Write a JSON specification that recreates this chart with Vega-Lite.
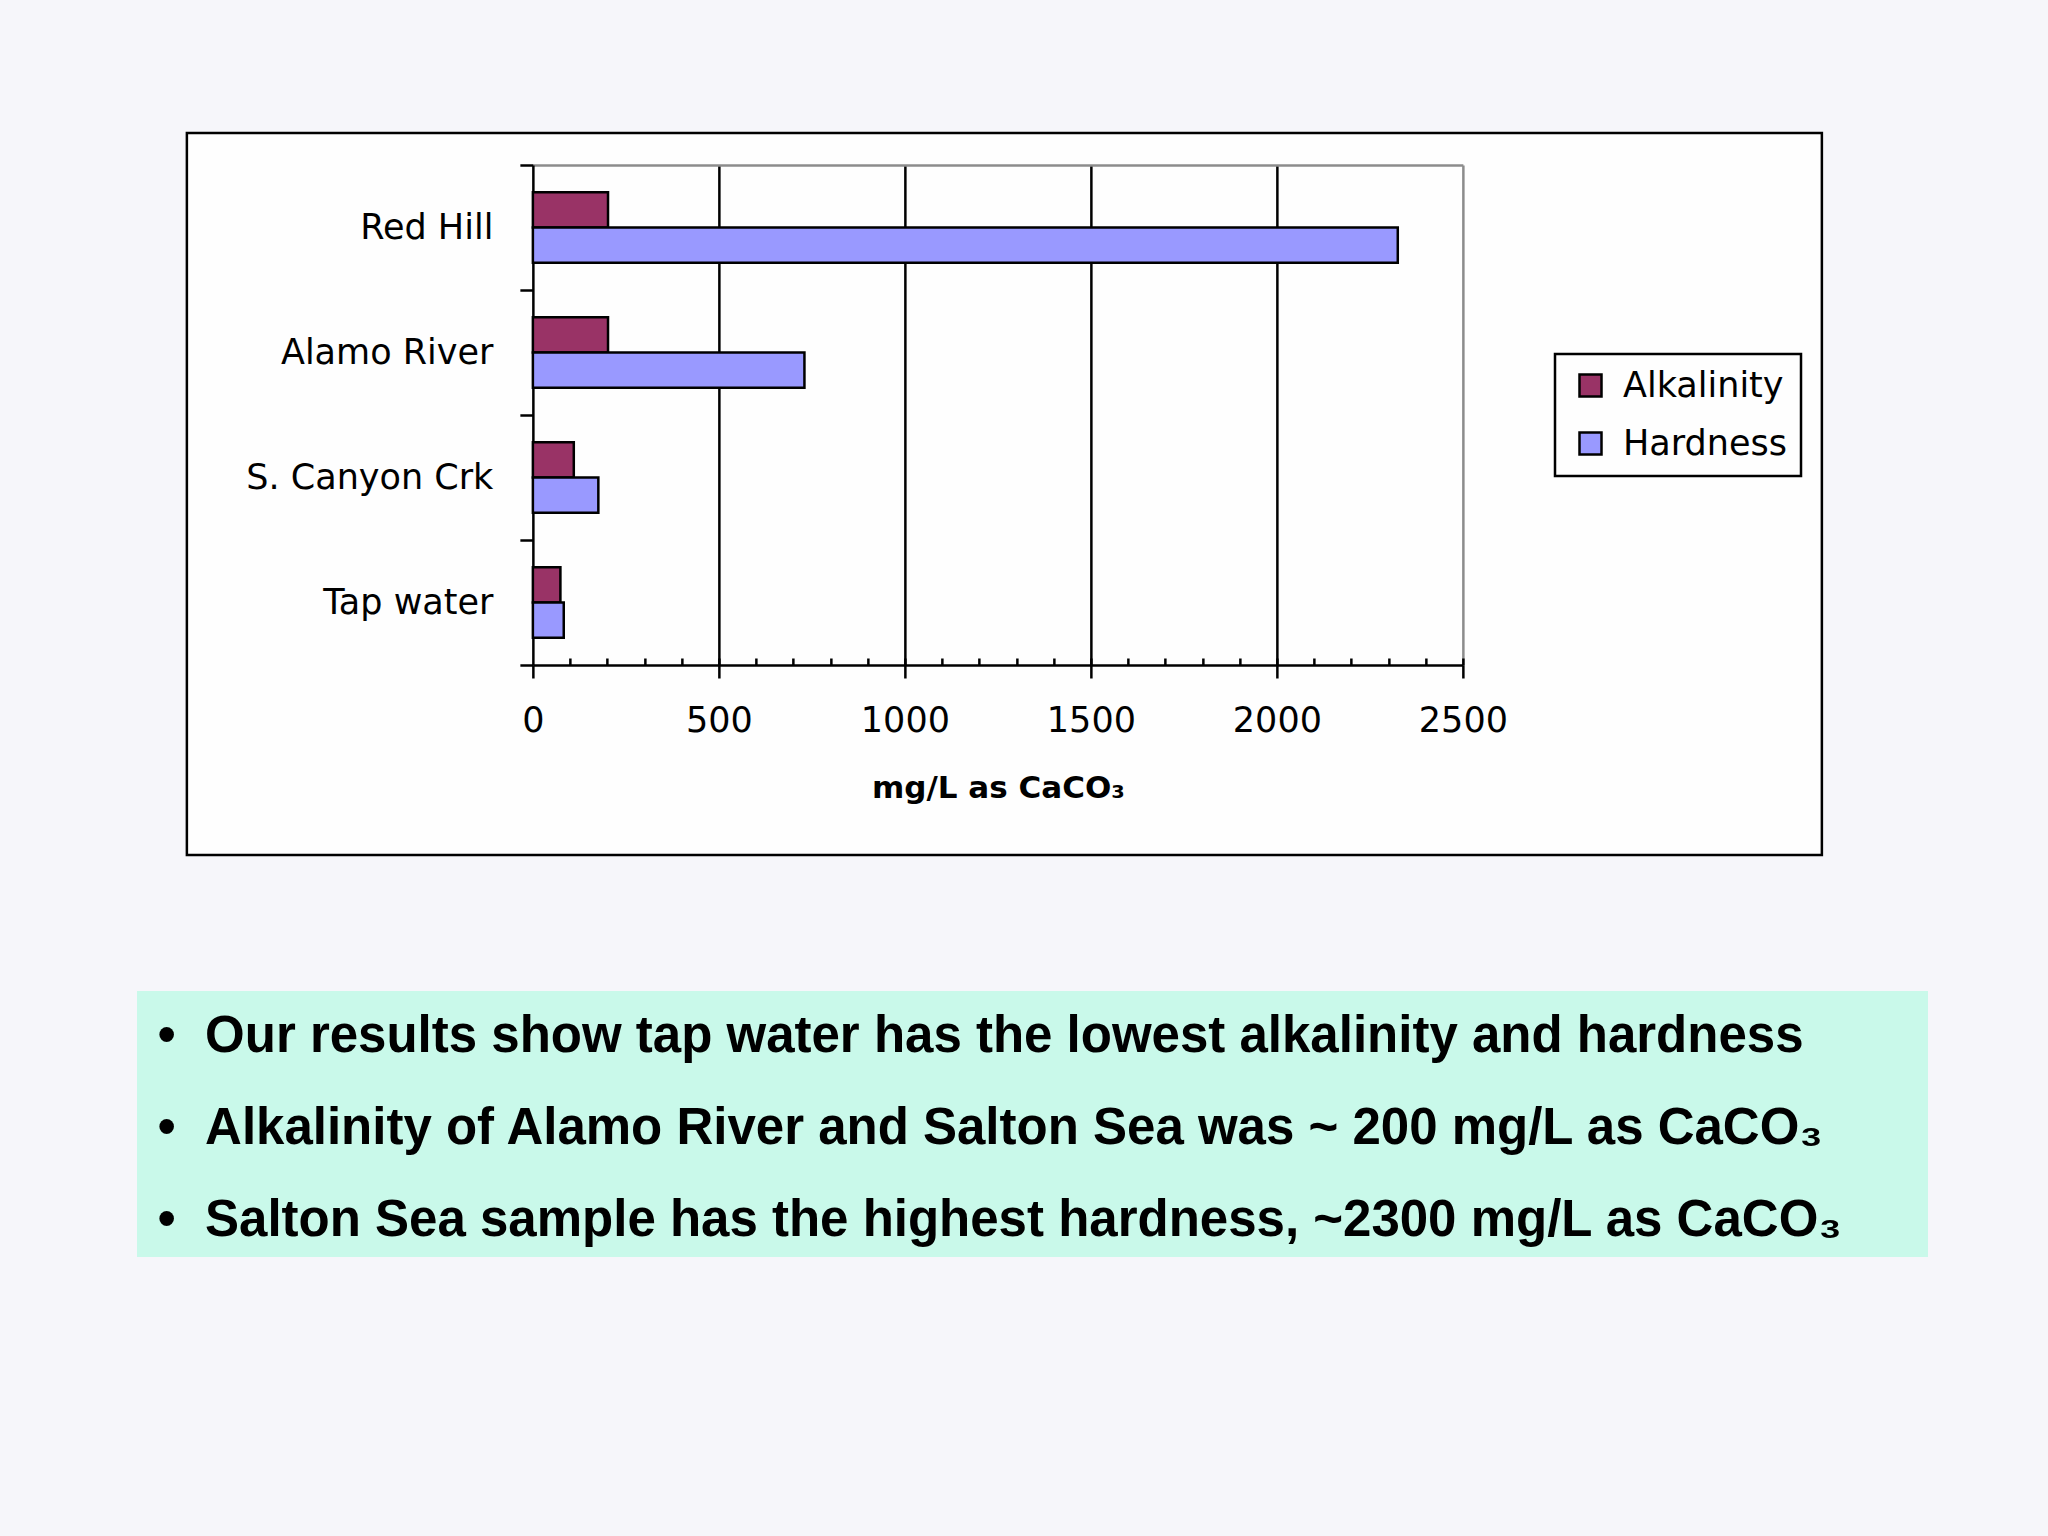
{
  "$schema": "https://vega.github.io/schema/vega-lite/v6.json",
  "background": "#f6f6fa",
  "padding": {"left": 137, "top": 114, "right": 120, "bottom": 300},
  "center": true,
  "spacing": 134,
  "vconcat": [
    {
      "width": 1635,
      "height": 722,
      "title": {"text": " ", "orient": "right", "fontSize": 1, "offset": 54},
      "view": {"fill": "#fefefe", "stroke": "black", "strokeWidth": 2.5},
      "data": {"values": [
        {"site": "Red Hill", "measure": "Alkalinity", "value": 202},
        {"site": "Red Hill", "measure": "Hardness", "value": 2325},
        {"site": "Alamo River", "measure": "Alkalinity", "value": 202},
        {"site": "Alamo River", "measure": "Hardness", "value": 730},
        {"site": "S. Canyon Crk", "measure": "Alkalinity", "value": 110},
        {"site": "S. Canyon Crk", "measure": "Hardness", "value": 176},
        {"site": "Tap water", "measure": "Alkalinity", "value": 74},
        {"site": "Tap water", "measure": "Hardness", "value": 83}
      ]},
      "encoding": {
        "y": {
          "field": "site", "type": "nominal", "sort": null,
          "scale": {"range": [32, 532], "paddingInner": 0, "paddingOuter": 0},
          "axis": {
            "orient": "left", "offset": -346, "title": null, "tickBand": "extent",
            "tickSize": 13, "tickWidth": 2.5, "tickColor": "black",
            "domainColor": "black", "domainWidth": 2.5,
            "labelFont": "DejaVu Sans", "labelFontSize": 35, "labelColor": "black", "labelPadding": 27, "labelLimit": 500,
            "grid": true, "gridColor": "#8c8c8c", "gridWidth": 2.5,
            "gridOpacity": {"condition": {"test": "datum.extra", "value": 1}, "value": 0}
          }
        },
        "yOffset": {"field": "measure", "type": "nominal", "scale": {"domain": ["Alkalinity", "Hardness"], "paddingInner": 0, "paddingOuter": 0.77}},
        "color": {
          "field": "measure", "type": "nominal",
          "scale": {"domain": ["Alkalinity", "Hardness"], "range": ["#993366", "#9999ff"]},
          "legend": {
            "orient": "none", "legendX": 1418, "legendY": 221, "title": null,
            "symbolType": "square", "symbolSize": 484, "symbolStrokeColor": "black", "symbolStrokeWidth": 2.5,
            "symbolOffset": 4,
            "labelFont": "DejaVu Sans", "labelFontSize": 35, "labelColor": "black", "labelOffset": 15, "labelLimit": 400,
            "rowPadding": 22, "padding": 14, "strokeColor": "black", "fillColor": "#fefefe",
            "encode": {"legend": {"update": {"strokeWidth": {"value": 2.5}}}}
          }
        }
      },
      "layer": [
        {
          "transform": [{"filter": "datum.measure === 'Alkalinity'"}],
          "mark": {"type": "bar", "stroke": "black", "strokeWidth": 2.5},
          "encoding": {
            "x": {
              "field": "value", "type": "quantitative",
              "scale": {"domain": [0, 2500], "range": [346, 1276], "nice": false, "zero": true},
              "axis": {
                "orient": "bottom", "offset": -190, "values": [0, 500, 1000, 1500, 2000, 2500], "format": "d",
                "tickSize": 13, "tickWidth": 2.5, "tickColor": "black",
                "domainColor": "black", "domainWidth": 2.5,
                "labelFont": "DejaVu Sans", "labelFontSize": 35, "labelColor": "black", "labelPadding": 25,
                "labelFlush": false, "labelOverlap": false, "grid": false,
                "title": "mg/L as CaCO₃", "titleFont": "DejaVu Sans", "titleFontSize": 31, "titleFontWeight": "bold",
                "titleColor": "black", "titlePadding": 35
              }
            }
          }
        },
        {
          "transform": [{"filter": "datum.measure === 'Hardness'"}],
          "mark": {"type": "bar", "stroke": "black", "strokeWidth": 2.5},
          "encoding": {
            "x": {
              "field": "value", "type": "quantitative",
              "scale": {"domain": [0, 2500], "range": [346, 1276], "nice": false, "zero": true},
              "axis": {
                "orient": "top", "offset": -532,
                "values": [100, 200, 300, 400, 500, 600, 700, 800, 900, 1000, 1100, 1200, 1300, 1400, 1500, 1600, 1700, 1800, 1900, 2000, 2100, 2200, 2300, 2400, 2500],
                "tickSize": 7, "tickWidth": 2.5, "tickColor": "black",
                "domain": false, "labels": false, "title": null,
                "grid": true, "gridWidth": 2.5,
                "gridColor": {"condition": {"test": "datum.value === 2500", "value": "#8c8c8c"}, "value": "black"},
                "gridOpacity": {"condition": {"test": "datum.value % 500 === 0", "value": 1}, "value": 0}
              }
            }
          }
        }
      ],
      "resolve": {"axis": {"x": "independent"}}
    },
    {
      "width": 1791,
      "height": 266,
      "view": {"fill": "#c9f9ea", "stroke": null},
      "data": {"values": [
        {"line": 1, "text": "Our results show tap water has the lowest alkalinity and hardness"},
        {"line": 2, "text": "Alkalinity of Alamo River and Salton Sea was ~ 200 mg/L as CaCO₃"},
        {"line": 3, "text": "Salton Sea sample has the highest hardness, ~2300 mg/L as CaCO₃"}
      ]},
      "encoding": {
        "y": {"field": "line", "type": "ordinal", "axis": null, "scale": {"padding": 0.45}}
      },
      "layer": [
        {
          "mark": {"type": "text", "text": "•", "align": "center", "baseline": "middle", "dy": 5, "font": "Liberation Sans", "fontWeight": "bold", "fontSize": 51, "color": "black"},
          "encoding": {
            "x": {"datum": 1.65, "type": "quantitative", "scale": {"domain": [0, 100], "nice": false, "zero": false}, "axis": null}
          }
        },
        {
          "mark": {"type": "text", "align": "left", "baseline": "middle", "dy": 5, "font": "Liberation Sans", "fontWeight": "bold", "fontSize": 51, "color": "black"},
          "encoding": {
            "text": {"field": "text"},
            "x": {"datum": 3.8, "type": "quantitative", "scale": {"domain": [0, 100], "nice": false, "zero": false}, "axis": null}
          }
        }
      ]
    }
  ]
}
